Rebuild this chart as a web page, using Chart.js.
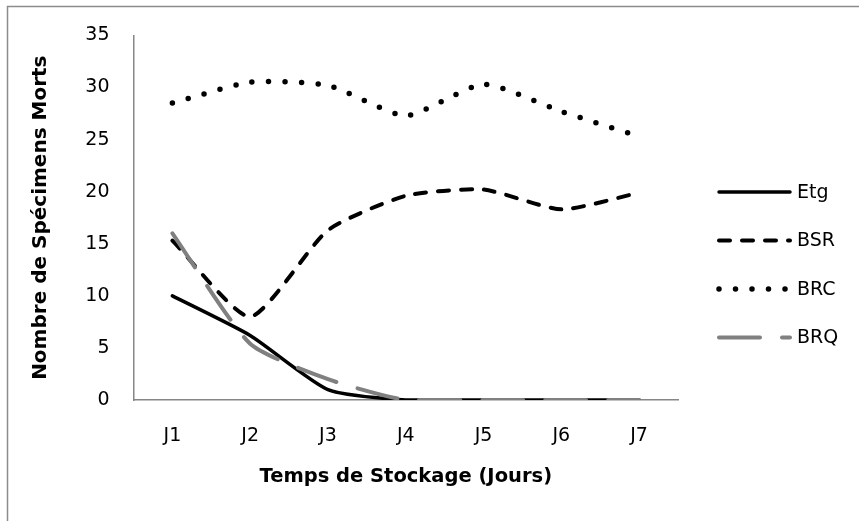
<!DOCTYPE html>
<html><head><meta charset="utf-8">
<script src="https://cdn.jsdelivr.net/npm/chart.js@4.4.1/dist/chart.umd.min.js"></script>
<style>html,body{margin:0;padding:0;background:#fff}</style>
</head><body>
<canvas id="c" width="859" height="521" style="display:block;width:859px;height:521px"></canvas>
<script>
// ---- data ----
const categories = ['J1', 'J2', 'J3', 'J4', 'J5', 'J6', 'J7'];
const seriesNames = ['Etg', 'BSR', 'BRC', 'BRQ'];
const etgValues = [10, 6.2, 1, 0, 0, 0, 0];
const bsrValues = [15.3, 8, 16.3, 19.6, 20.2, 18.3, 19.9];
const brcValues = [28.5, 30.5, 30.2, 27.3, 30.3, 27.7, 25.3];
const brqValues = [16, 5.4, 2, 0, 0, 0, 0];
const yMin = 0, yMax = 35, yStep = 5;
const xTitle = 'Temps de Stockage (Jours)';
const yTitle = 'Nombre de Spécimens Morts';

const FONT = '"DejaVu Sans", sans-serif';
const AXIS = '#868686';

const bgBorder = {
  id: 'bgBorder',
  beforeDraw(chart) {
    const ctx = chart.ctx;
    ctx.save();
    ctx.fillStyle = '#fff';
    ctx.fillRect(0, 0, chart.width, chart.height);
    ctx.strokeStyle = '#8c8c8c';
    ctx.lineWidth = 1.5;
    ctx.beginPath();
    ctx.moveTo(7.5, chart.height + 2);
    ctx.lineTo(7.5, 6.5);
    ctx.lineTo(chart.width + 2, 6.5);
    ctx.stroke();
    ctx.restore();
  }
};

const sideLegend = {
  id: 'sideLegend',
  afterDraw(chart) {
    const ctx = chart.ctx;
    ctx.save();
    chart.data.datasets.forEach((ds, i) => {
      const y = 192 + i * 48.5;
      ctx.beginPath();
      ctx.setLineDash(ds.borderDash || []);
      ctx.lineCap = 'round';
      ctx.lineWidth = ds.borderWidth;
      ctx.strokeStyle = ds.borderColor;
      ctx.moveTo(719, y);
      ctx.lineTo(790, y);
      ctx.stroke();
      ctx.setLineDash([]);
      ctx.fillStyle = '#000';
      ctx.font = '19px ' + FONT;
      ctx.textBaseline = 'middle';
      ctx.textAlign = 'left';
      ctx.fillText(ds.label, 797, y + 1);
    });
    ctx.restore();
  }
};

const mk = (label, data, color, width, dash, order) => ({
  label, data,
  borderColor: color, backgroundColor: color,
  borderWidth: width, borderDash: dash,
  borderCapStyle: 'round', borderJoinStyle: 'round',
  pointRadius: 0, pointHoverRadius: 0,
  tension: 0.2, fill: false, order
});

new Chart(document.getElementById('c'), {
  type: 'line',
  data: {
    labels: categories,
    datasets: [
      mk(seriesNames[0], etgValues, '#000000', 3.5, [], 4),
      mk(seriesNames[1], bsrValues, '#000000', 4, [11, 12], 3),
      mk(seriesNames[2], brcValues, '#000000', 5.5, [0, 16.5], 2),
      mk(seriesNames[3], brqValues, '#808080', 4, [41, 22], 1)
    ]
  },
  options: {
    responsive: false,
    animation: false,
    devicePixelRatio: 1,
    layout: { padding: { left: 0, top: 35, right: 181, bottom: 0 } },
    plugins: { legend: { display: false }, tooltip: { enabled: false } },
    scales: {
      x: {
        offset: true,
        grid: { display: false, drawTicks: false },
        border: { display: true, color: AXIS, width: 1.5 },
        ticks: { color: '#000', font: { family: FONT, size: 19 }, padding: 25, maxRotation: 0 },
        title: { display: true, text: xTitle, color: '#000',
                 font: { family: FONT, size: 19.5, weight: 'bold' }, padding: { top: 0, bottom: 32 } },
        afterFit(s) { s.height = 121; }
      },
      y: {
        min: yMin, max: yMax,
        grid: { display: false, drawTicks: false },
        border: { display: true, color: AXIS, width: 1.5 },
        ticks: { stepSize: yStep, color: '#000', font: { family: FONT, size: 19 }, padding: 24 },
        title: { display: true, text: yTitle, color: '#000',
                 font: { family: FONT, size: 20, weight: 'bold' }, padding: { top: 29, bottom: 0 } },
        afterFit(s) { s.width = 133.5; }
      }
    }
  },
  plugins: [bgBorder, sideLegend]
});
</script>
</body></html>
